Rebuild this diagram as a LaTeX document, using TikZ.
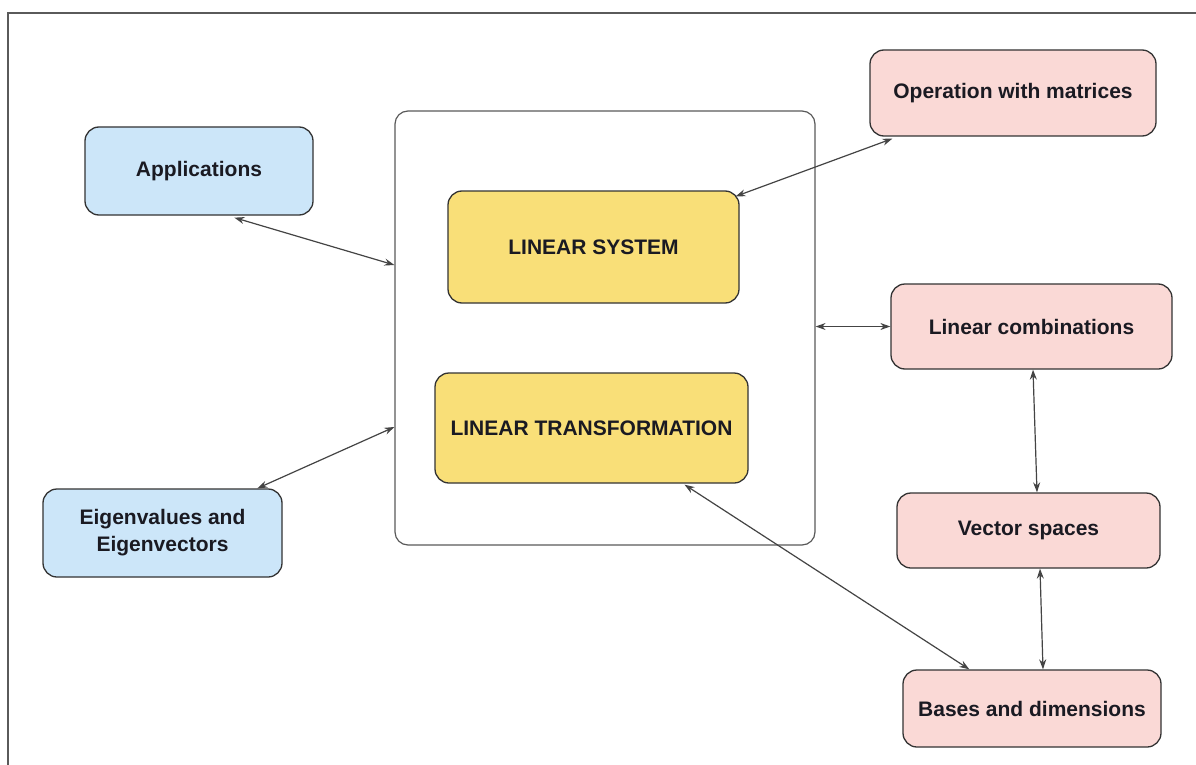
\documentclass[tikz,border=0pt]{standalone}
\usepackage{fontspec}
\setmainfont{Liberation Sans}
\usetikzlibrary{arrows.meta,calc}
\definecolor{skyfill}{HTML}{CCE6F9}
\definecolor{rosefill}{HTML}{FAD9D6}
\definecolor{sunfill}{HTML}{F9DF78}
\definecolor{edgegray}{HTML}{333333}
\definecolor{linegray}{HTML}{444444}
\definecolor{framegray}{HTML}{5A5A5A}
\definecolor{inkdark}{HTML}{1A1A22}
\begin{document}
\begin{tikzpicture}[x=1pt,y=-1pt,
  topic/.style={draw=edgegray, line width=1.3pt, rounded corners=14pt,
    inner sep=0pt, align=center, text=inkdark,
    font=\fontsize{21}{27}\selectfont\bfseries},
  side/.style={topic, fill=skyfill},
  part/.style={topic, fill=rosefill},
  core/.style={topic, fill=sunfill},
  hub/.style={draw=framegray, line width=1.2pt, rounded corners=13pt, fill=white},
  link/.style={draw=linegray, line width=1.2pt,
    {Stealth[length=10pt,width=7pt]}-{Stealth[length=10pt,width=7pt]}},
]
\useasboundingbox (0,0) rectangle (1196,765);
\fill[white] (0,0) rectangle (1196,765);

% open frame along the top and left edges
\draw[framegray, line width=2pt] (1196,13) -- (8,13) -- (8,765);

% central container with the two core topics
\node[hub, minimum width=420pt, minimum height=434pt] (hubbox) at (605,328) {};
\node[core, minimum width=291pt, minimum height=112pt] (ls) at (593.5,247) {LINEAR SYSTEM};
\node[core, minimum width=313pt, minimum height=110pt] (lt) at (591.5,428) {LINEAR TRANSFORMATION};

% left-hand topics
\node[side, minimum width=228pt, minimum height=88pt] (app) at (199,171) {Applications};
\node[side, minimum width=239pt, minimum height=88pt] (eig) at (162.5,533) {Eigenvalues and\\Eigenvectors};

% right-hand topics
\node[part, minimum width=286pt, minimum height=86pt] (om) at (1013,93) {Operation with matrices};
\node[part, minimum width=281pt, minimum height=85pt] (lc) at (1031.5,326.5) {Linear combinations};
\node[part, minimum width=263pt, minimum height=75pt] (vs) at (1028.5,530.5) {Vector spaces};
\node[part, minimum width=258pt, minimum height=77pt] (bd) at (1032,708.5) {Bases and dimensions};

% connectors
\draw[link] ($(app.south west)+(150,2)$) -- ($(hubbox.west)+(0,-63)$);
\draw[link] ($(eig.north west)+(215,0)$) -- ($(hubbox.west)+(0,99)$);
\draw[link] ($(om.south west)+(23,2)$) -- ($(ls.north east)+(-4,6)$);
\draw[link] (hubbox.east |- lc.west) -- (lc.west);
\draw[link] ($(lc.south)+(1.5,0)$) -- ($(vs.north)+(8.5,0)$);
\draw[link] ($(vs.south)+(11.5,0)$) -- ($(bd.north)+(11,0)$);
\draw[link] ($(lt.south)+(93,1)$) -- ($(bd.north west)+(67,0)$);
\end{tikzpicture}
\end{document}
